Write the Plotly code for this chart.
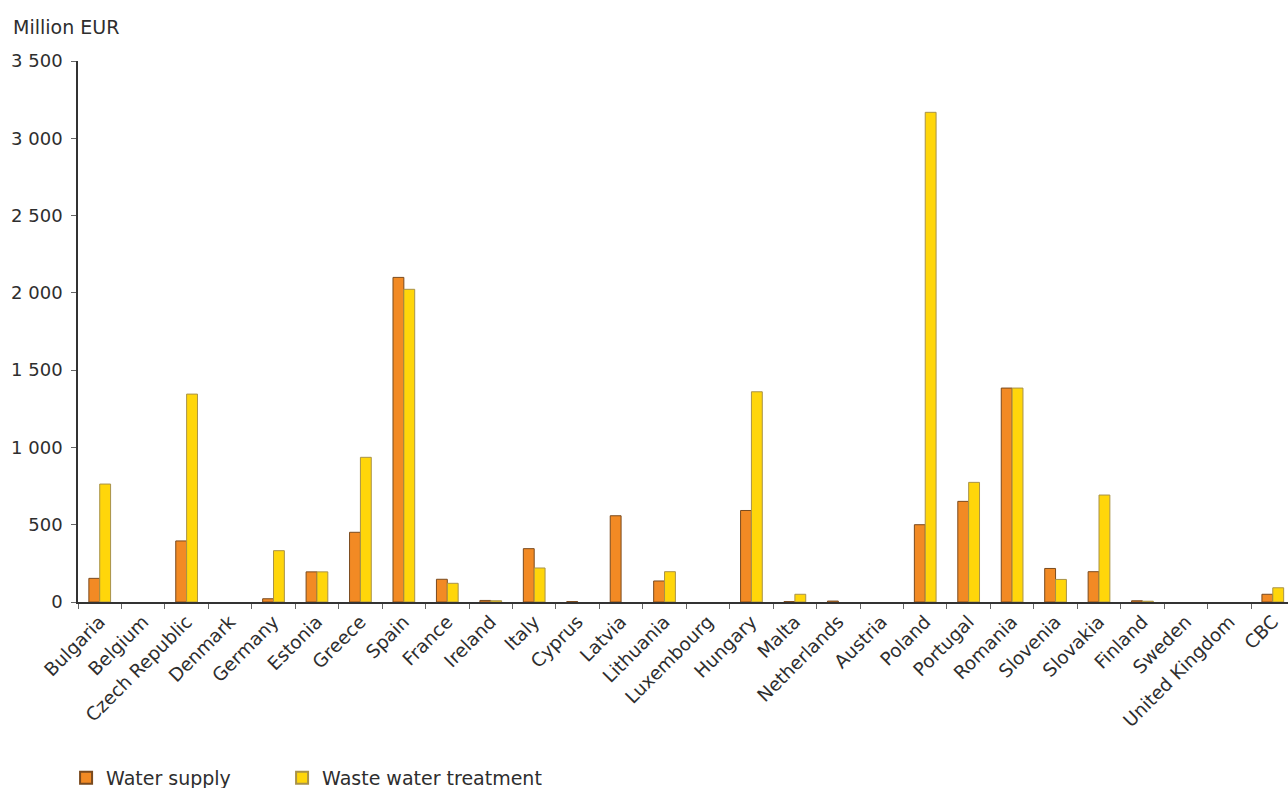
import plotly.graph_objects as go

countries = ["Bulgaria", "Belgium", "Czech Republic", "Denmark", "Germany", "Estonia",
             "Greece", "Spain", "France", "Ireland", "Italy", "Cyprus", "Latvia",
             "Lithuania", "Luxembourg", "Hungary", "Malta", "Netherlands", "Austria",
             "Poland", "Portugal", "Romania", "Slovenia", "Slovakia", "Finland",
             "Sweden", "United Kingdom", "CBC"]

# None = no bar drawn in the reference
water_supply = [153, None, 395, None, 21, 195, 451, 2100, 147, 10, 345, 3, 558,
                136, None, 592, 3, 6, None, 500, 651, 1384, 217, 196, 8, None, None, 50]

waste_water = [763, None, 1345, None, 332, 195, 936, 2023, 121, 8, 220, None, None,
               196, None, 1360, 50, None, None, 3168, 774, 1384, 146, 692, 5, None, None, 92]

y_ticks = [0, 500, 1000, 1500, 2000, 2500, 3000, 3500]

font_family = "DejaVu Sans, Verdana, sans-serif"
text_color = "#2E2E2E"

fig = go.Figure()
fig.add_trace(go.Bar(
    name="Water supply", x=countries, y=water_supply, legend="legend",
    marker=dict(color="#F28A24", line=dict(color="#7A4A1E", width=1)),
))
fig.add_trace(go.Bar(
    name="Waste water treatment", x=countries, y=waste_water, legend="legend2",
    marker=dict(color="#FFD60A", line=dict(color="#A8924A", width=1)),
))

legend_common = dict(orientation="h", xref="container", yref="container",
                     xanchor="left", yanchor="middle", y=0.0127,
                     font=dict(size=19, color=text_color), itemsizing="constant",
                     bgcolor="rgba(0,0,0,0)")

fig.update_layout(
    width=1288, height=788,
    margin=dict(l=78, r=0, t=61, b=186),
    paper_bgcolor="white", plot_bgcolor="white",
    font=dict(family=font_family, size=18, color=text_color),
    separators=". ",
    barmode="group", bargap=0.5, bargroupgap=0,
    showlegend=True,
    legend=dict(x=0.0513, **legend_common),
    legend2=dict(x=0.219, **legend_common),
    annotations=[dict(text="Million EUR", xref="paper", yref="paper",
                      x=-0.0555, y=1.063, xanchor="left", yanchor="middle",
                      showarrow=False, font=dict(size=19, color=text_color))],
)

fig.update_xaxes(
    type="category", range=[-0.5, 27.35], automargin=False,
    tickangle=-45, tickson="boundaries", ticks="outside", ticklen=5,
    tickcolor="#666666", showline=True, linecolor="#333333", linewidth=1.5,
    showgrid=False, zeroline=False, tickfont=dict(size=18.5, color=text_color),
)
fig.update_yaxes(
    range=[0, 3500], tickvals=y_ticks, tickformat=",d", automargin=False,
    ticks="outside", ticklen=5, tickcolor="#666666", ticklabelstandoff=5,
    showline=True, linecolor="#333333", linewidth=1.5,
    showgrid=False, zeroline=False, tickfont=dict(size=18, color=text_color),
)

fig.write_html("out.html", config={"displayModeBar": False},
               post_script="document.body.style.margin='0';")
